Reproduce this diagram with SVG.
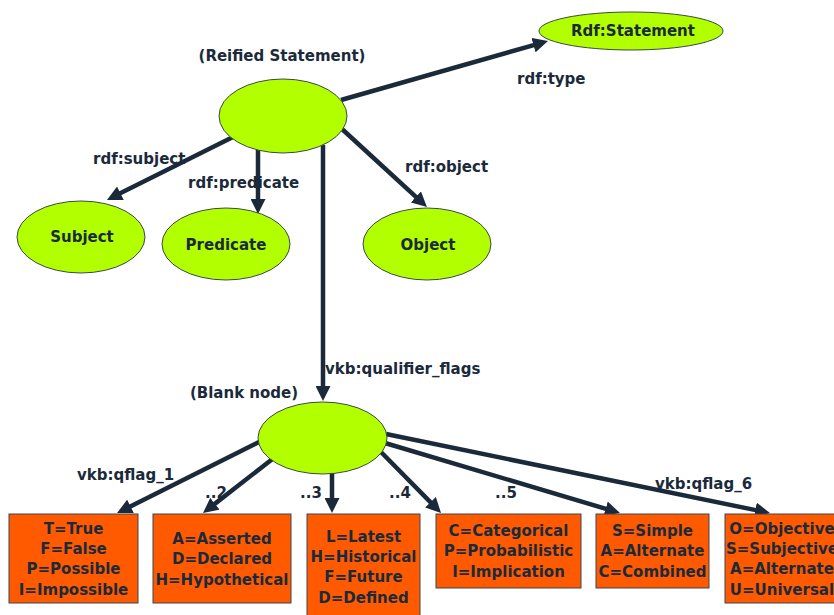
<svg xmlns="http://www.w3.org/2000/svg" width="834" height="615" viewBox="0 0 834 615">
  <style>
    .bg { fill: #ffffff; }
    .ell { fill: #b2ff00; stroke: #3b4650; stroke-width: 1; }
    .box { fill: #ff5a00; stroke: #3b4650; stroke-width: 1; }
    text { font-family: "DejaVu Sans", Verdana, sans-serif; font-weight: bold; fill: #1b2a3a; dominant-baseline: central; }
    .lbl { font-size: 15px; }
    .node { font-size: 15px; text-anchor: middle; }
    .flag { font-size: 15px; text-anchor: middle; }
    .edge { stroke: #1b2a3a; stroke-width: 4.5; fill: none; marker-end: url(#arrow); }
  </style>
  <defs>
    <marker id="arrow" markerUnits="userSpaceOnUse" markerWidth="15" markerHeight="15" refX="3" refY="7.5" orient="auto">
      <path d="M0,0 L15,7.5 L0,15 z" fill="#1b2a3a"/>
    </marker>
  </defs>
  <rect class="bg" x="0" y="0" width="834" height="615"/>

  <!-- connectors -->
  <g id="edges">
    <line class="edge" x1="341" y1="100" x2="536.4" y2="44.3"/>
    <line class="edge" x1="233" y1="137" x2="117.7" y2="194.6"/>
    <line class="edge" x1="258" y1="150" x2="258" y2="202"/>
    <line class="edge" x1="342" y1="129" x2="418.1" y2="198.9"/>
    <line class="edge" x1="323" y1="145" x2="323" y2="389"/>
    <line class="edge" x1="259" y1="442" x2="127.8" y2="507.7"/>
    <line class="edge" x1="275" y1="457" x2="212.5" y2="505.6"/>
    <line class="edge" x1="332" y1="473" x2="332" y2="501"/>
    <line class="edge" x1="379" y1="450" x2="432.6" y2="504.4"/>
    <line class="edge" x1="385" y1="443" x2="608.5" y2="509.6"/>
    <line class="edge" x1="386" y1="434" x2="758.2" y2="510.6"/>
  </g>

  <!-- edge labels -->
  <g id="edge-labels">
    <text class="lbl" x="517" y="79">rdf:type</text>
    <text class="lbl" x="93" y="159">rdf:subject</text>
    <text class="lbl" x="188" y="183">rdf:predicate</text>
    <text class="lbl" x="405" y="167">rdf:object</text>
    <text class="lbl" x="325" y="369">vkb:qualifier_flags</text>
    <text class="lbl" x="77" y="475">vkb:qflag_1</text>
    <text class="lbl" x="205" y="493">..2</text>
    <text class="lbl" x="300" y="493">..3</text>
    <text class="lbl" x="389" y="493">..4</text>
    <text class="lbl" x="495" y="493">..5</text>
    <text class="lbl" x="655" y="484">vkb:qflag_6</text>
  </g>

  <g id="rdf-statement">
    <ellipse class="ell" cx="631" cy="31" rx="92" ry="19"/>
    <text class="node" x="633" y="31">Rdf:Statement</text>
  </g>

  <g id="reified-statement">
    <text class="node" x="282" y="56">(Reified Statement)</text>
    <ellipse class="ell" cx="283" cy="116" rx="64" ry="37"/>
  </g>

  <g id="subject">
    <ellipse class="ell" cx="81" cy="237" rx="64" ry="36"/>
    <text class="node" x="82" y="237">Subject</text>
  </g>

  <g id="predicate">
    <ellipse class="ell" cx="226" cy="244" rx="64" ry="36"/>
    <text class="node" x="226" y="245">Predicate</text>
  </g>

  <g id="object">
    <ellipse class="ell" cx="427" cy="244" rx="64" ry="36"/>
    <text class="node" x="428" y="245">Object</text>
  </g>

  <g id="blank-node">
    <text class="node" x="244" y="393">(Blank node)</text>
    <ellipse class="ell" cx="322.5" cy="438" rx="64.5" ry="36"/>
  </g>

  <g id="qflag-1">
    <rect class="box" x="9" y="514" width="129" height="89"/>
    <text class="flag" x="73.5" y="529">T=True</text>
    <text class="flag" x="73.5" y="549">F=False</text>
    <text class="flag" x="73.5" y="569">P=Possible</text>
    <text class="flag" x="73.5" y="590">I=Impossible</text>
  </g>

  <g id="qflag-2">
    <rect class="box" x="153" y="514" width="138" height="89"/>
    <text class="flag" x="222" y="539">A=Asserted</text>
    <text class="flag" x="222" y="559">D=Declared</text>
    <text class="flag" x="222" y="580">H=Hypothetical</text>
  </g>

  <g id="qflag-3">
    <rect class="box" x="307" y="514" width="113" height="104"/>
    <text class="flag" x="363.5" y="537">L=Latest</text>
    <text class="flag" x="363.5" y="557">H=Historical</text>
    <text class="flag" x="363.5" y="577">F=Future</text>
    <text class="flag" x="363.5" y="598">D=Defined</text>
  </g>

  <g id="qflag-4">
    <rect class="box" x="436" y="514" width="145" height="74"/>
    <text class="flag" x="508.5" y="531">C=Categorical</text>
    <text class="flag" x="508.5" y="551">P=Probabilistic</text>
    <text class="flag" x="508.5" y="572">I=Implication</text>
  </g>

  <g id="qflag-5">
    <rect class="box" x="596" y="514" width="113" height="74"/>
    <text class="flag" x="652.5" y="531">S=Simple</text>
    <text class="flag" x="652.5" y="551">A=Alternate</text>
    <text class="flag" x="652.5" y="572">C=Combined</text>
  </g>

  <!-- this box runs past the right edge of the sheet -->
  <g id="qflag-6">
    <rect class="box" x="725" y="514" width="120" height="89"/>
    <text class="flag" x="782" y="529">O=Objective</text>
    <text class="flag" x="782" y="549">S=Subjective</text>
    <text class="flag" x="782" y="569">A=Alternate</text>
    <text class="flag" x="782" y="590">U=Universal</text>
  </g>
</svg>
